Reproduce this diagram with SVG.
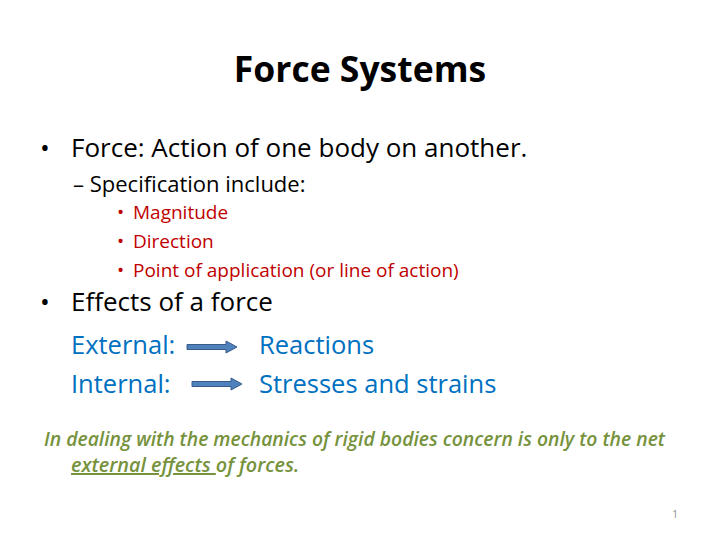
<svg xmlns="http://www.w3.org/2000/svg" width="720" height="540" viewBox="0 0 720 540">
<style>
text{font-family:"Open Sans","Liberation Sans",sans-serif}
.red{fill:#c00000;font-size:19px}
.blue{fill:#0070c0;font-size:25.5px}
.it{fill:#76923c;font-size:19.8px;font-style:italic;font-weight:600}
.arr{fill:#4f81bd;stroke:#385d8a;stroke-width:1}
</style>
<rect width="720" height="540" fill="#fff"/>
<g id="title"><text x="360" y="82" text-anchor="middle" font-size="35.5" font-weight="bold">Force Systems</text></g>
<g id="body">
<text x="40" y="157" font-size="26">•</text>
<text x="71" y="157" font-size="26">Force: Action of one body on another.</text>
<text x="73" y="192" font-size="22">– Specification include:</text>
<text x="117" y="219" class="red">•</text><text x="133" y="219" class="red">Magnitude</text>
<text x="117" y="248" class="red">•</text><text x="133" y="248" class="red">Direction</text>
<text x="117" y="277" class="red">•</text><text x="133" y="277" class="red">Point of application (or line of action)</text>
<text x="40" y="311" font-size="26">•</text>
<text x="71" y="311" font-size="26">Effects of a force</text>
</g>
<g id="external"><text x="71" y="354" class="blue">External:</text><text x="259" y="354" class="blue">Reactions</text></g>
<g id="internal"><text x="71" y="393" class="blue">Internal:</text><text x="259" y="393" class="blue">Stresses and strains</text></g>
<g id="connectors">
<path class="arr" d="M187 344.5 H226 V341 L237 347 L226 353 V349.5 H187 Z"/>
<path class="arr" d="M192 381.5 H231 V378 L242 384 L231 390 V386.5 H192 Z"/>
</g>
<g id="note">
<text x="44" y="446" class="it" textLength="621" lengthAdjust="spacingAndGlyphs">In dealing with the mechanics of rigid bodies concern is only to the net</text>
<text x="71" y="472" class="it"><tspan text-decoration="underline">external effects </tspan>of forces.</text>
</g>
<text x="675" y="518" font-size="10" fill="#8c8c8c" text-anchor="middle">1</text>
</svg>
